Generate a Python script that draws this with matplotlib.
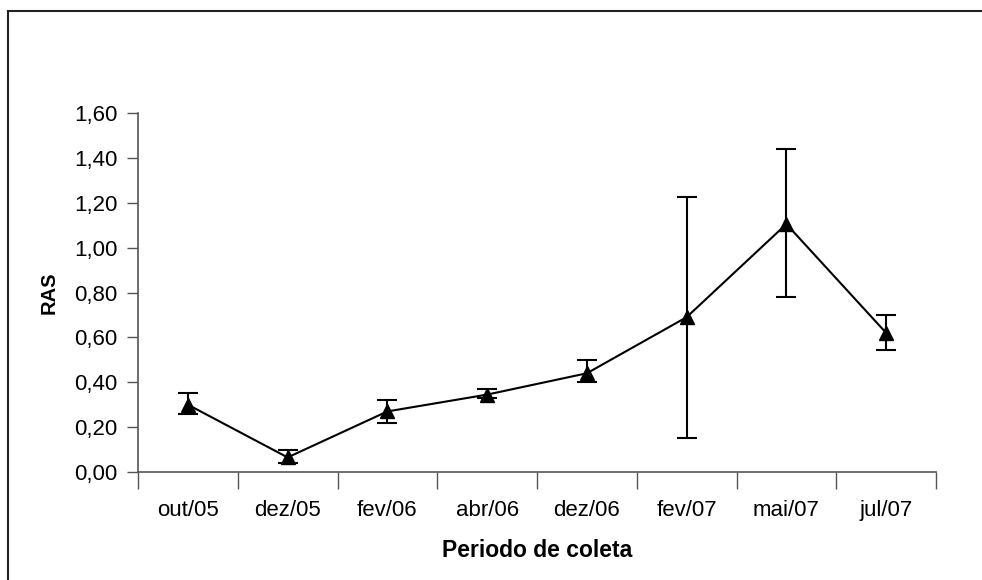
import matplotlib
matplotlib.use("Agg")
import matplotlib.pyplot as plt
from matplotlib.lines import Line2D
import numpy as np

categories = ["out/05", "dez/05", "fev/06", "abr/06", "dez/06", "fev/07", "mai/07", "jul/07"]
values = [0.30, 0.065, 0.27, 0.345, 0.44, 0.69, 1.105, 0.62]
err_low = [0.26, 0.04, 0.22, 0.33, 0.40, 0.15, 0.78, 0.545]
err_high = [0.35, 0.10, 0.32, 0.37, 0.50, 1.225, 1.44, 0.70]
yticks = [0.0, 0.2, 0.4, 0.6, 0.8, 1.0, 1.2, 1.4, 1.6]

plt.rcParams['font.family'] = ['Liberation Sans', 'DejaVu Sans']

W, H = 982, 580
fig = plt.figure(figsize=(W / 100, H / 100), dpi=100)
ax = fig.add_axes([138 / W, 1 - 472 / H, (936 - 138) / W, (472 - 113) / H])

x = np.arange(len(categories))
v = np.array(values)
lo = v - np.array(err_low)
hi = np.array(err_high) - v
ax.errorbar(x, v, yerr=[lo, hi], fmt='-', color='black', lw=1.5,
            ecolor='black', elinewidth=1.5, capsize=7, capthick=1.5, zorder=3)
ax.plot(x, v, linestyle='none', marker='^', markersize=10, color='black', zorder=4)

ax.set_xlim(-0.5, len(categories) - 0.5)
ax.set_ylim(0, 1.6)
ax.set_yticks(yticks)
ax.set_yticklabels([f"{t:.2f}".replace('.', ',') for t in yticks], fontsize=16)
ax.set_xticks(np.arange(len(categories) + 1) - 0.5)
ax.set_xticklabels([])
ax.set_xticks(x, minor=True)
ax.set_xticklabels(categories, minor=True, fontsize=16)
ax.tick_params(axis='x', which='major', direction='out', length=12, width=1, color='#555555')
ax.tick_params(axis='x', which='minor', length=0, pad=20)
ax.tick_params(axis='y', direction='out', length=8, width=1, color='#555555', pad=7)

for s in ['top', 'right']:
    ax.spines[s].set_visible(False)
for s in ['left', 'bottom']:
    ax.spines[s].set_color('#555555')
    ax.spines[s].set_linewidth(1.2)

ax.set_ylabel("RAS", fontsize=14.5, fontweight='bold', labelpad=11)
ax.set_xlabel("Periodo de coleta", fontsize=16.5, fontweight='bold', labelpad=13)

# outer frame (top and left edges)
fig.add_artist(Line2D([8 / W, 8 / W], [0, 1 - 11 / H], transform=fig.transFigure, color='#222222', lw=1.5))
fig.add_artist(Line2D([8 / W, 1.0], [1 - 11 / H, 1 - 11 / H], transform=fig.transFigure, color='#222222', lw=1.5))

fig.savefig("out.png", dpi=100)
